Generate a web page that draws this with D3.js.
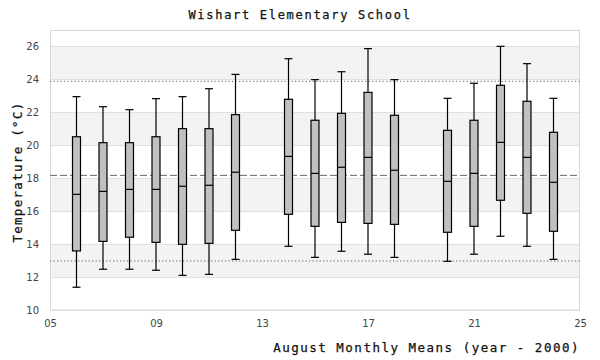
<!DOCTYPE html>
<html><head><meta charset="utf-8">
<script src="https://cdn.jsdelivr.net/npm/d3@7"></script>
<style>body{margin:0;background:#fff}svg{display:block}</style>
</head><body><svg id="c" width="600" height="360"></svg>
<script>
const years   = [6,7,8,9,10,11,12,14,15,16,17,18,20,21,22,23,24];
const whiskLo = [11.38,12.47,12.47,12.41,12.10,12.16,13.07,13.86,13.19,13.56,13.38,13.19,12.95,13.38,14.47,13.86,13.07];
const q1      = [13.58,14.16,14.41,14.10,13.98,14.04,14.83,15.80,15.07,15.31,15.25,15.19,14.71,15.07,16.65,15.86,14.77];
const median  = [17.01,17.19,17.31,17.31,17.50,17.56,18.35,19.31,18.28,18.65,19.25,18.47,17.80,18.28,20.16,19.25,17.74];
const q3      = [20.50,20.14,20.14,20.50,20.99,20.99,21.84,22.77,21.50,21.92,23.19,21.80,20.89,21.50,23.62,22.65,20.77];
const whiskHi = [22.93,22.32,22.14,22.81,22.93,23.41,24.28,25.23,23.96,24.44,25.84,23.96,22.83,23.74,25.98,24.93,22.83];
const refLines = [{v:23.86,type:"dot"},{v:18.16,type:"dash"},{v:12.97,type:"dot"}];
const xTicks = [5,9,13,17,21,25];
const yTicks = [10,12,14,16,18,20,22,24,26];
const bands = [[24,26],[20,22],[16,18],[12,14]];

const svg = d3.select("#c");
const L=50, R=580, T=30.5, B=310;
const x = d3.scaleLinear().domain([5,25]).range([L,R]);
const y = d3.scaleLinear().domain([10,26]).range([B,46]);
const mono = "'DejaVu Sans Mono', monospace";

// bands
svg.append("g").selectAll("rect").data(bands).join("rect")
  .attr("x",L).attr("width",R-L).attr("y",d=>y(d[1])).attr("height",d=>y(d[0])-y(d[1]))
  .attr("fill","#f3f3f3");
// gridlines
svg.append("g").selectAll("line").data(yTicks).join("line")
  .attr("x1",L).attr("x2",R).attr("y1",d=>y(d)+0.5).attr("y2",d=>y(d)+0.5)
  .attr("stroke","#e0e0e0");
// border
svg.append("rect").attr("x",L+0.5).attr("y",T).attr("width",R-L-1).attr("height",B-T)
  .attr("fill","none").attr("stroke","#d8d8d8");

// axes
const ya = svg.append("g").attr("transform",`translate(${L},0)`)
  .call(d3.axisLeft(y).tickValues(yTicks).tickSize(0).tickPadding(11));
const xa = svg.append("g").attr("transform",`translate(0,${B})`)
  .call(d3.axisBottom(x).tickValues(xTicks).tickSize(0).tickPadding(10).tickFormat(d3.format("02d")));
[ya,xa].forEach(a=>{a.select(".domain").remove();
  a.selectAll("text").attr("fill","#444").attr("font-family","'DejaVu Sans', sans-serif").attr("font-size",10);});

// reference lines
svg.append("g").selectAll("line").data(refLines).join("line")
  .attr("x1",L).attr("x2",R).attr("y1",d=>y(d.v)).attr("y2",d=>y(d.v))
  .attr("stroke","#666").attr("stroke-width",1)
  .attr("stroke-dasharray",d=>d.type==="dot"?"1.3,2.2":"7,3");

// boxes
const bw=8;
const g = svg.append("g").selectAll("g").data(years.map((yr,i)=>({yr,i}))).join("g")
  .attr("stroke-width",1.2);
g.append("line").attr("x1",d=>x(d.yr)).attr("x2",d=>x(d.yr))
  .attr("y1",d=>y(whiskHi[d.i])).attr("y2",d=>y(whiskLo[d.i])).attr("stroke","#000");
g.append("line").attr("x1",d=>x(d.yr)-bw/2).attr("x2",d=>x(d.yr)+bw/2)
  .attr("y1",d=>y(whiskHi[d.i])).attr("y2",d=>y(whiskHi[d.i])).attr("stroke","#000");
g.append("line").attr("x1",d=>x(d.yr)-bw/2).attr("x2",d=>x(d.yr)+bw/2)
  .attr("y1",d=>y(whiskLo[d.i])).attr("y2",d=>y(whiskLo[d.i])).attr("stroke","#000");
g.append("rect").attr("x",d=>x(d.yr)-bw/2).attr("width",bw)
  .attr("y",d=>y(q3[d.i])).attr("height",d=>y(q1[d.i])-y(q3[d.i]))
  .attr("fill","#c0c0c0").attr("stroke","#000");
g.append("line").attr("x1",d=>x(d.yr)-bw/2).attr("x2",d=>x(d.yr)+bw/2)
  .attr("y1",d=>y(median[d.i])).attr("y2",d=>y(median[d.i])).attr("stroke","#000");

// titles
const titleStyle = s => s.attr("font-family",mono).attr("fill","#111")
  .attr("stroke","#111").attr("stroke-width",0.25);
svg.append("text").attr("x",300).attr("y",19).attr("text-anchor","middle")
  .attr("font-size",12).attr("letter-spacing",1.7).call(titleStyle)
  .text("Wishart Elementary School");
svg.append("text").attr("x",580).attr("y",352).attr("text-anchor","end")
  .attr("font-size",12.5).attr("letter-spacing",1.5).call(titleStyle)
  .text("August Monthly Means (year - 2000)");
svg.append("text").attr("transform","translate(22,172) rotate(-90)").attr("text-anchor","middle")
  .attr("font-size",12.5).attr("letter-spacing",1.3).call(titleStyle)
  .text("Temperature (°C)");
</script></body></html>
